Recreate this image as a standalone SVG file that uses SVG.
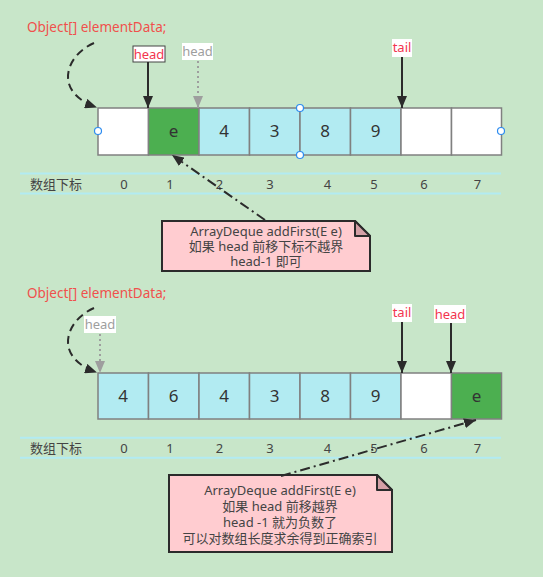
<svg xmlns="http://www.w3.org/2000/svg" width="543" height="577" viewBox="0 0 543 577">
<defs>
<style>
text{font-family:"Noto Sans","Noto Sans CJK SC",sans-serif}
.title{font-size:13.5px;fill:#f0504c}
.cell{stroke:#808080;stroke-width:1.5}
.white{fill:#ffffff}
.cyan{fill:#b2ebf2}
.green{fill:#4caf50}
.val{font-size:17px;fill:#333;text-anchor:middle}
.idx{font-size:13px;fill:#444;text-anchor:middle}
.idxline{stroke:#b2ebf2;stroke-width:2}
.ptr{font-size:13px;fill:#f2364e;text-anchor:middle}
.gptr{font-size:13px;fill:#9e9e9e;text-anchor:middle}
.solid{stroke:#2b2b2b;stroke-width:2;fill:none}
.dotted{stroke:#9e9e9e;stroke-width:2;stroke-dasharray:2 3;fill:none}
.dashed{stroke:#2b2b2b;stroke-width:2;stroke-dasharray:8 5;fill:none}
.dashdot{stroke:#2b2b2b;stroke-width:2;stroke-dasharray:10 4 2 4;fill:none}
.note{fill:#ffccd0;stroke:#2b2b2b;stroke-width:2}
.fold{fill:#d4a0a6;stroke:#2b2b2b;stroke-width:2;stroke-linejoin:round}
.ntext{font-size:13px;fill:#444;text-anchor:middle}
.handle{fill:#fff;stroke:#2d8cf0;stroke-width:1.2}
</style>
<marker id="ah" viewBox="0 0 12 10" refX="12" refY="5" markerWidth="12" markerHeight="10" markerUnits="userSpaceOnUse" orient="auto"><path d="M0,0 L12,5 L0,10 z" fill="#2b2b2b"/></marker>
<marker id="ahg" viewBox="0 0 12 10" refX="12" refY="5" markerWidth="12" markerHeight="10" markerUnits="userSpaceOnUse" orient="auto"><path d="M0,0 L12,5 L0,10 z" fill="#9e9e9e"/></marker>
</defs>
<rect x="0" y="0" width="543" height="577" fill="#c8e6c9"/>

<!-- Section 1 -->
<g id="title1"><text class="title" x="27" y="32">Object[] elementData;</text></g>

<g id="array1">
<rect class="cell white" x="98" y="108" width="50.5" height="47"/>
<rect class="cell green" x="148.5" y="108" width="50.5" height="47"/>
<rect class="cell cyan" x="199" y="108" width="50.5" height="47"/>
<rect class="cell cyan" x="249.5" y="108" width="50.5" height="47"/>
<rect class="cell cyan" x="300" y="108" width="50.5" height="47"/>
<rect class="cell cyan" x="350.5" y="108" width="50.5" height="47"/>
<rect class="cell white" x="401" y="108" width="50.5" height="47"/>
<rect class="cell white" x="451.5" y="108" width="50" height="47"/>
<text class="val" x="173.5" y="137">e</text>
<text class="val" x="224" y="137">4</text>
<text class="val" x="274.5" y="137">3</text>
<text class="val" x="325" y="137">8</text>
<text class="val" x="375.5" y="137">9</text>
<circle class="handle" cx="98" cy="131" r="3.5"/>
<circle class="handle" cx="501" cy="131" r="3.5"/>
<circle class="handle" cx="300" cy="108" r="3.5"/>
<circle class="handle" cx="300" cy="155" r="3.5"/>
</g>

<g id="index1">
<line class="idxline" x1="20" y1="173.5" x2="501" y2="173.5"/>
<line class="idxline" x1="20" y1="193.5" x2="501" y2="193.5"/>
<text class="idx" x="56" y="189">数组下标</text>
<text class="idx" x="124" y="189">0</text>
<text class="idx" x="170" y="189">1</text>
<text class="idx" x="219.5" y="189">2</text>
<text class="idx" x="270" y="189">3</text>
<text class="idx" x="327.5" y="189">4</text>
<text class="idx" x="374" y="189">5</text>
<text class="idx" x="424" y="189">6</text>
<text class="idx" x="477.5" y="189">7</text>
</g>

<g id="head1"><rect x="133" y="46" width="32" height="16" fill="#fff" stroke="#444" stroke-width="1"/><text class="ptr" x="149" y="59">head</text></g>
<g id="oldhead1"><rect x="182" y="43" width="31" height="17" fill="#fff"/><text class="gptr" x="197.5" y="56">head</text></g>
<g id="tail1"><rect x="392" y="39" width="20" height="18" fill="#fff"/><text class="ptr" x="402" y="52">tail</text></g>

<g id="note1">
<path class="note" d="M162,221 H355 L370,236 V271 H162 Z"/>
<path class="fold" d="M355,221 V236 H370 Z"/>
<text class="ntext" x="266" y="236">ArrayDeque addFirst(E e)</text>
<text class="ntext" x="266" y="251">如果 head 前移下标不越界</text>
<text class="ntext" x="266" y="266">head-1 即可</text>
</g>

<!-- Section 2 -->
<g id="title2"><text class="title" x="27" y="298">Object[] elementData;</text></g>

<g id="array2">
<rect class="cell cyan" x="98" y="373" width="50.5" height="46"/>
<rect class="cell cyan" x="148.5" y="373" width="50.5" height="46"/>
<rect class="cell cyan" x="199" y="373" width="50.5" height="46"/>
<rect class="cell cyan" x="249.5" y="373" width="50.5" height="46"/>
<rect class="cell cyan" x="300" y="373" width="50.5" height="46"/>
<rect class="cell cyan" x="350.5" y="373" width="50.5" height="46"/>
<rect class="cell white" x="401" y="373" width="50.5" height="46"/>
<rect class="cell green" x="451.5" y="373" width="50" height="46"/>
<text class="val" x="123" y="402">4</text>
<text class="val" x="173.5" y="402">6</text>
<text class="val" x="224" y="402">4</text>
<text class="val" x="274.5" y="402">3</text>
<text class="val" x="325" y="402">8</text>
<text class="val" x="375.5" y="402">9</text>
<text class="val" x="476.5" y="402">e</text>
</g>

<g id="index2">
<line class="idxline" x1="20" y1="437.7" x2="501" y2="437.7"/>
<line class="idxline" x1="20" y1="457.7" x2="501" y2="457.7"/>
<text class="idx" x="56" y="453">数组下标</text>
<text class="idx" x="124" y="453">0</text>
<text class="idx" x="170" y="453">1</text>
<text class="idx" x="219.5" y="453">2</text>
<text class="idx" x="270" y="453">3</text>
<text class="idx" x="327.5" y="453">4</text>
<text class="idx" x="374" y="453">5</text>
<text class="idx" x="424" y="453">6</text>
<text class="idx" x="477.5" y="453">7</text>
</g>

<g id="oldhead2"><rect x="84" y="316" width="32" height="17" fill="#fff"/><text class="gptr" x="100" y="329">head</text></g>
<g id="tail2"><rect x="392" y="304" width="20" height="18" fill="#fff"/><text class="ptr" x="402" y="317">tail</text></g>
<g id="head2"><rect x="434" y="305" width="32" height="18" fill="#fff"/><text class="ptr" x="450" y="319">head</text></g>

<g id="note2">
<path class="note" d="M169,475 H377 L392,490 V552 H169 Z"/>
<path class="fold" d="M377,475 V490 H392 Z"/>
<text class="ntext" x="280" y="495">ArrayDeque addFirst(E e)</text>
<text class="ntext" x="280" y="511">如果 head 前移越界</text>
<text class="ntext" x="280" y="527">head -1 就为负数了</text>
<text class="ntext" x="280" y="543">可以对数组长度求余得到正确索引</text>
</g>

<g id="connectors">
<path class="dashed" d="M94,43 C66,55 52,92 97,107.5" marker-end="url(#ah)"/>
<line class="solid" x1="148" y1="62" x2="148" y2="108" marker-end="url(#ah)"/>
<line class="dotted" x1="198" y1="61" x2="198" y2="108" marker-end="url(#ahg)"/>
<line class="solid" x1="402" y1="57" x2="402" y2="108" marker-end="url(#ah)"/>
<path class="dashdot" d="M265,220 L172,155" marker-end="url(#ah)"/>

<path class="dashed" d="M94,308 C66,320 52,357 97,372.5" marker-end="url(#ah)"/>
<line class="dotted" x1="100" y1="334" x2="100" y2="373" marker-end="url(#ahg)"/>
<line class="solid" x1="402" y1="322" x2="402" y2="373" marker-end="url(#ah)"/>
<line class="solid" x1="451" y1="323" x2="451" y2="373" marker-end="url(#ah)"/>
<path class="dashdot" d="M281,476 L476,420" marker-end="url(#ah)"/>
</g>
</svg>
